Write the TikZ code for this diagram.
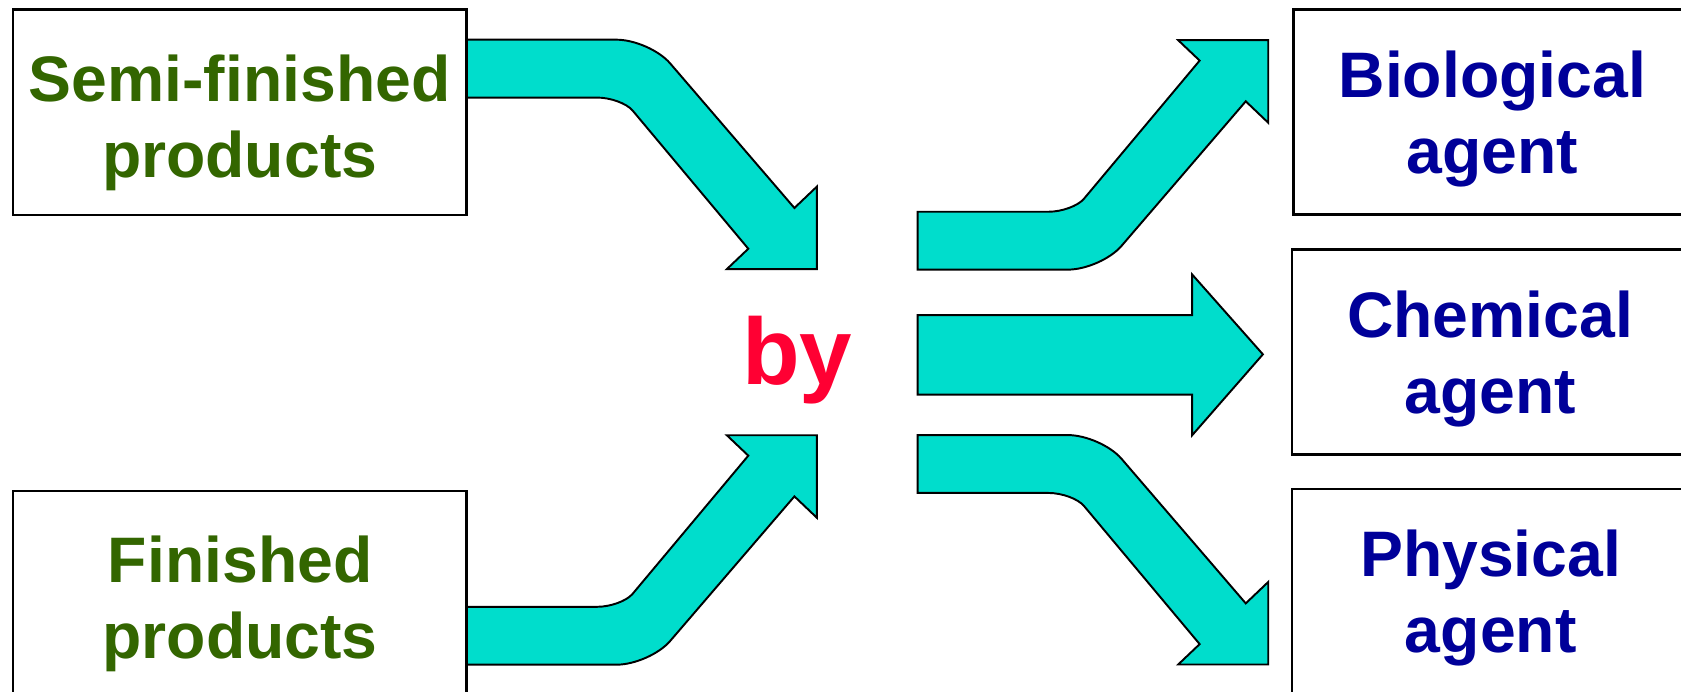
\documentclass[tikz,border=0pt]{standalone}
\usepackage{fontspec}
\setmainfont{Liberation Sans}
\usetikzlibrary{fit}
\definecolor{arrowfill}{RGB}{0,221,204}
\definecolor{prodgreen}{RGB}{51,102,0}
\definecolor{agentblue}{RGB}{0,0,153}
\definecolor{byred}{RGB}{255,0,51}
\newcommand\twolines[2]{\begin{tabular}[t]{@{}c@{}}#1\\#2\end{tabular}}
\newcommand\bentarrowpath{(435,37) -- (575,37) .. controls (592,37) and (614.5,46.9) .. (625,59) -- (741,194) -- (762,174) -- (762,251) -- (678,251) -- (698,232) -- (590,103) .. controls (584.3,96.4) and (569.5,91) .. (557,91) -- (435,91) -- cycle}
\begin{document}
\begin{tikzpicture}[x=0.5pt,y=-0.5pt,
  box/.style={draw=black, line width=1.1pt, fill=white, inner sep=0pt},
  blockarrow/.style={draw=black, line width=0.9pt, fill=arrowfill, line join=miter},
  labeltext/.style={inner sep=0pt, anchor=base, font=\fontsize{30pt}{35.5pt}\selectfont\bfseries},
  prodtext/.style={labeltext, text=prodgreen},
  agenttext/.style={labeltext, text=agentblue}]
\useasboundingbox (0,0) rectangle (1568,645);
\clip (0,0) rectangle (1568,645);
% arrows
\draw[blockarrow] \bentarrowpath;
\begin{scope}[shift={(0,657)}]
  \begin{scope}[yscale=-1]
    \draw[blockarrow] \bentarrowpath;
  \end{scope}
\end{scope}
\begin{scope}[shift={(421,288.5)}]
  \begin{scope}[yscale=-1]
    \draw[blockarrow] \bentarrowpath;
  \end{scope}
\end{scope}
\begin{scope}[shift={(421,368.8)}]
  \draw[blockarrow] \bentarrowpath;
\end{scope}
\draw[blockarrow] (856,294) -- (1112,294) -- (1112,256) -- (1178,330.5) -- (1112,406) -- (1112,368) -- (856,368) -- cycle;
% boxes
\node[box, fit={(12,8.7) (435,200.6)}] (semibox) {};
\node[box, fit={(12,458) (435,700)}] (finbox) {};
\node[box, fit={(1206.5,8.7) (1650,200)}] (biobox) {};
\node[box, fit={(1205,232.6) (1650,423.8)}] (chembox) {};
\node[box, fit={(1205,456) (1650,700)}] (physbox) {};
% texts
\node[prodtext] (semitext) at (223.5,95) {\twolines{Semi-finished}{products}};
\node[prodtext] (fintext) at (224,543) {\twolines{Finished}{products}};
\node[agenttext] (biotext) at (1392,91) {\twolines{Biological}{agent}};
\node[agenttext] (chemtext) at (1390,314.7) {\twolines{Chemical}{agent}};
\node[agenttext] (phystext) at (1390.5,538) {\twolines{Physical}{agent}};
\node[inner sep=0pt, anchor=base, text=byred, font=\fontsize{44pt}{50pt}\selectfont\bfseries] (bytext) at (743.5,359) {by};
\end{tikzpicture}
\end{document}
